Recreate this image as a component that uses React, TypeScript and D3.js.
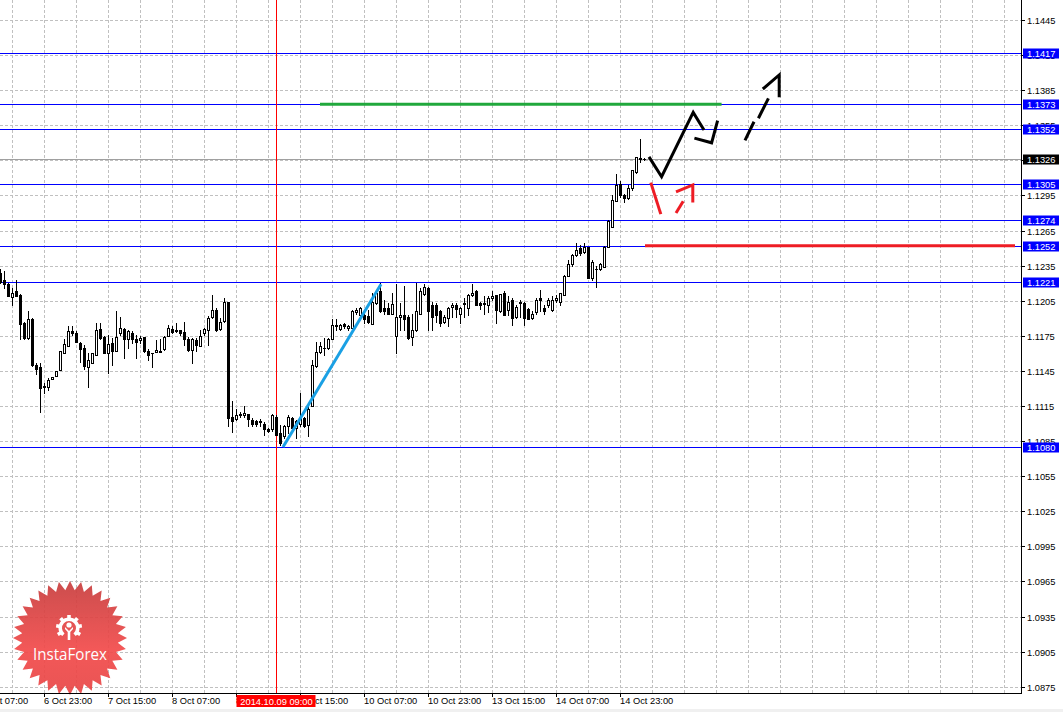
import * as d3 from 'd3';

// H1 bars, index 0 = first visible bar (6 Oct 12:00), [open, high, low, close]
const ohlc: [number, number, number, number][] = [
  [1.1229, 1.1232, 1.1220, 1.1221], [1.1223, 1.1230, 1.1216, 1.1219], [1.1219, 1.1220, 1.1209, 1.1209],
  [1.1208, 1.1216, 1.1201, 1.1212], [1.1213, 1.1223, 1.1209, 1.1209], [1.1210, 1.1211, 1.1172, 1.1185],
  [1.1186, 1.1187, 1.1172, 1.1173], [1.1173, 1.1196, 1.1172, 1.1189], [1.1189, 1.1190, 1.1149, 1.1150],
  [1.1150, 1.1152, 1.1142, 1.1147], [1.1148, 1.1152, 1.1110, 1.1130], [1.1131, 1.1135, 1.1126, 1.1132],
  [1.1131, 1.1139, 1.1129, 1.1137], [1.1138, 1.1140, 1.1138, 1.1140], [1.1141, 1.1145, 1.1141, 1.1145],
  [1.1146, 1.1162, 1.1146, 1.1162], [1.1160, 1.1172, 1.1160, 1.1168], [1.1166, 1.1183, 1.1166, 1.1179],
  [1.1179, 1.1183, 1.1176, 1.1177], [1.1177, 1.1179, 1.1170, 1.1170], [1.1169, 1.1170, 1.1153, 1.1164],
  [1.1165, 1.1167, 1.1147, 1.1149], [1.1148, 1.1160, 1.1131, 1.1154], [1.1152, 1.1160, 1.1152, 1.1160],
  [1.1159, 1.1186, 1.1159, 1.1180], [1.1181, 1.1186, 1.1172, 1.1173], [1.1174, 1.1175, 1.1160, 1.1160],
  [1.1160, 1.1176, 1.1143, 1.1168], [1.1169, 1.1173, 1.1150, 1.1162], [1.1162, 1.1196, 1.1162, 1.1174],
  [1.1177, 1.1191, 1.1176, 1.1182], [1.1181, 1.1182, 1.1156, 1.1172], [1.1172, 1.1180, 1.1165, 1.1179],
  [1.1177, 1.1179, 1.1169, 1.1172], [1.1172, 1.1176, 1.1156, 1.1170], [1.1171, 1.1175, 1.1169, 1.1173],
  [1.1174, 1.1174, 1.1161, 1.1162], [1.1162, 1.1164, 1.1154, 1.1159], [1.1160, 1.1160, 1.1148, 1.1160],
  [1.1161, 1.1171, 1.1161, 1.1163], [1.1161, 1.1172, 1.1161, 1.1162], [1.1164, 1.1175, 1.1163, 1.1174],
  [1.1175, 1.1184, 1.1175, 1.1182], [1.1181, 1.1183, 1.1177, 1.1178], [1.1179, 1.1186, 1.1178, 1.1180],
  [1.1180, 1.1180, 1.1176, 1.1177], [1.1178, 1.1187, 1.1167, 1.1172], [1.1172, 1.1174, 1.1162, 1.1163],
  [1.1163, 1.1173, 1.1152, 1.1172], [1.1171, 1.1173, 1.1162, 1.1167], [1.1166, 1.1180, 1.1166, 1.1175],
  [1.1177, 1.1182, 1.1176, 1.1181], [1.1180, 1.1192, 1.1167, 1.1190], [1.1191, 1.1210, 1.1190, 1.1197],
  [1.1197, 1.1199, 1.1179, 1.1180], [1.1181, 1.1190, 1.1180, 1.1187], [1.1188, 1.1207, 1.1187, 1.1204],
  [1.1204, 1.1204, 1.1098, 1.1105], [1.1106, 1.1119, 1.1093, 1.1102], [1.1104, 1.1112, 1.1103, 1.1107],
  [1.1108, 1.1110, 1.1106, 1.1107], [1.1107, 1.1115, 1.1106, 1.1109], [1.1108, 1.1108, 1.1098, 1.1104],
  [1.1103, 1.1105, 1.1098, 1.1100], [1.1102, 1.1103, 1.1098, 1.1100], [1.1102, 1.1104, 1.1098, 1.1101],
  [1.1100, 1.1101, 1.1090, 1.1095], [1.1095, 1.1096, 1.1093, 1.1094], [1.1095, 1.1108, 1.1094, 1.1107],
  [1.1106, 1.1107, 1.1090, 1.1090], [1.1092, 1.1099, 1.1082, 1.1083], [1.1089, 1.1099, 1.1088, 1.1098],
  [1.1098, 1.1107, 1.1092, 1.1106], [1.1105, 1.1106, 1.1095, 1.1096], [1.1096, 1.1103, 1.1088, 1.1102],
  [1.1100, 1.1126, 1.1098, 1.1105], [1.1105, 1.1106, 1.1097, 1.1098], [1.1099, 1.1115, 1.1089, 1.1112],
  [1.1115, 1.1154, 1.1115, 1.1150], [1.1149, 1.1170, 1.1148, 1.1161], [1.1161, 1.1170, 1.1160, 1.1166],
  [1.1165, 1.1173, 1.1159, 1.1165], [1.1165, 1.1173, 1.1164, 1.1172], [1.1172, 1.1189, 1.1172, 1.1184],
  [1.1184, 1.1189, 1.1180, 1.1183], [1.1181, 1.1185, 1.1180, 1.1184], [1.1185, 1.1186, 1.1182, 1.1183],
  [1.1182, 1.1184, 1.1180, 1.1183], [1.1182, 1.1197, 1.1182, 1.1196], [1.1195, 1.1199, 1.1194, 1.1197],
  [1.1193, 1.1200, 1.1191, 1.1199], [1.1193, 1.1194, 1.1186, 1.1189], [1.1192, 1.1197, 1.1186, 1.1187],
  [1.1185, 1.1212, 1.1185, 1.1204], [1.1203, 1.1214, 1.1202, 1.1212], [1.1213, 1.1220, 1.1195, 1.1196],
  [1.1199, 1.1206, 1.1194, 1.1196], [1.1199, 1.1203, 1.1194, 1.1194], [1.1194, 1.1212, 1.1194, 1.1202],
  [1.1175, 1.1219, 1.1160, 1.1191], [1.1191, 1.1203, 1.1180, 1.1193], [1.1193, 1.1218, 1.1180, 1.1189],
  [1.1191, 1.1193, 1.1172, 1.1173], [1.1174, 1.1194, 1.1167, 1.1180], [1.1180, 1.1220, 1.1179, 1.1196],
  [1.1194, 1.1216, 1.1194, 1.1213], [1.1211, 1.1219, 1.1210, 1.1217], [1.1216, 1.1217, 1.1180, 1.1196],
  [1.1201, 1.1204, 1.1180, 1.1191], [1.1201, 1.1203, 1.1187, 1.1193], [1.1196, 1.1197, 1.1183, 1.1186],
  [1.1187, 1.1193, 1.1186, 1.1191], [1.1190, 1.1200, 1.1183, 1.1199], [1.1200, 1.1203, 1.1191, 1.1201],
  [1.1201, 1.1203, 1.1191, 1.1198], [1.1194, 1.1200, 1.1186, 1.1199], [1.1202, 1.1207, 1.1191, 1.1203],
  [1.1199, 1.1211, 1.1193, 1.1210], [1.1210, 1.1219, 1.1209, 1.1212], [1.1213, 1.1214, 1.1201, 1.1201],
  [1.1203, 1.1204, 1.1198, 1.1201], [1.1202, 1.1209, 1.1194, 1.1203], [1.1201, 1.1209, 1.1195, 1.1207],
  [1.1207, 1.1213, 1.1206, 1.1209], [1.1210, 1.1210, 1.1186, 1.1197], [1.1196, 1.1211, 1.1195, 1.1211],
  [1.1212, 1.1213, 1.1193, 1.1193], [1.1197, 1.1209, 1.1193, 1.1204], [1.1206, 1.1207, 1.1184, 1.1190],
  [1.1191, 1.1201, 1.1190, 1.1200], [1.1204, 1.1206, 1.1191, 1.1203], [1.1203, 1.1204, 1.1184, 1.1190],
  [1.1198, 1.1199, 1.1189, 1.1189], [1.1190, 1.1196, 1.1189, 1.1194], [1.1195, 1.1207, 1.1194, 1.1206],
  [1.1207, 1.1214, 1.1196, 1.1206], [1.1199, 1.1201, 1.1194, 1.1196], [1.1201, 1.1207, 1.1200, 1.1206],
  [1.1197, 1.1209, 1.1196, 1.1206], [1.1206, 1.1210, 1.1204, 1.1207], [1.1204, 1.1212, 1.1201, 1.1212],
  [1.1210, 1.1227, 1.1210, 1.1226], [1.1226, 1.1240, 1.1226, 1.1236], [1.1236, 1.1245, 1.1235, 1.1244],
  [1.1244, 1.1254, 1.1243, 1.1248], [1.1250, 1.1253, 1.1244, 1.1246], [1.1247, 1.1254, 1.1246, 1.1251],
  [1.1251, 1.1251, 1.1224, 1.1224], [1.1224, 1.1240, 1.1223, 1.1238], [1.1232, 1.1235, 1.1217, 1.1232],
  [1.1232, 1.1237, 1.1231, 1.1236], [1.1234, 1.1252, 1.1234, 1.1251], [1.1251, 1.1274, 1.1251, 1.1273],
  [1.1268, 1.1295, 1.1268, 1.1291], [1.1290, 1.1313, 1.1290, 1.1304], [1.1305, 1.1307, 1.1294, 1.1295],
  [1.1295, 1.1296, 1.1289, 1.1293], [1.1293, 1.1304, 1.1292, 1.1301], [1.1301, 1.1317, 1.1300, 1.1317],
  [1.1315, 1.1328, 1.1314, 1.1328], [1.1327, 1.1343, 1.1324, 1.1326], [1.1326, 1.1327, 1.1325, 1.1326],
];

const priceTicks = [
  1.0875, 1.0905, 1.0935, 1.0965, 1.0995, 1.1025, 1.1055, 1.1085, 1.1115, 1.1145,
  1.1175, 1.1205, 1.1235, 1.1265, 1.1295, 1.1325, 1.1355, 1.1385, 1.1415, 1.1445,
];
const levels = [1.1417, 1.1373, 1.1352, 1.1305, 1.1274, 1.1252, 1.1221, 1.108];
const bidPrice = 1.1326;

const timeLabels: [number, string][] = [
  [-5, '6 Oct 07:00'], [11, '6 Oct 23:00'], [27, '7 Oct 15:00'], [43, '8 Oct 07:00'],
  [59, '8 Oct 23:00'], [75, '9 Oct 15:00'], [91, '10 Oct 07:00'], [107, '10 Oct 23:00'],
  [123, '13 Oct 15:00'], [139, '14 Oct 07:00'], [155, '14 Oct 23:00'],
];
const cursorBar = 69;
const cursorLabel = '2014.10.09 09:00';

// drawn objects: [bar index, price]
const trendLine: [number, number][] = [[70.75, 1.108], [95.25, 1.1219]];
const greenSegment: [number, number][] = [[80, 1.1373], [180.4, 1.1373]];
const redSegment: [number, number][] = [[161.25, 1.1252], [253.75, 1.1252]];
const blackArrow: [number, number][][] = [
  [[162.25, 1.1328], [165.4, 1.1311], [173.3, 1.1366], [176, 1.1351]],
  [[173.6, 1.1344], [177.9, 1.134], [179.4, 1.1359]],
  [[186.25, 1.1342], [188.5, 1.1358]],
  [[189.6, 1.1361], [192.1, 1.1378]],
  [[190.7, 1.1386], [194.8, 1.1398], [194.8, 1.1379]],
];
const redArrow: [number, number][][] = [
  [[162.7, 1.1306], [165.2, 1.1279]],
  [[169, 1.128], [170.8, 1.129]],
  [[169, 1.1298], [173.2, 1.1304], [173.2, 1.1289]],
];

const FONT = '"Liberation Sans", Arial, sans-serif';

export default function App() {
  const width = 1063;
  const height = 712;
  const plotRight = 1021;
  const plotBottom = 693;

  const x = d3.scaleLinear().domain([0, 255]).range([0, 1020]);
  const y = d3.scaleLinear().domain([1.0875, 1.1445]).range([686.7, 20]);
  const line = d3.line<[number, number]>().x(d => x(d[0])).y(d => y(d[1]));

  const gridX = d3.range(3, 256, 8).map(k => Math.round(x(k)) + 0.5);

  const starPts = d3.range(64).map(i => [(i / 64) * 2 * Math.PI, i % 2 === 0 ? 57 : 48] as [number, number]);
  const star = d3.lineRadial<[number, number]>().angle(d => d[0]).radius(d => d[1]).curve(d3.curveLinearClosed)(starPts) || '';
  const gearRing = d3.arc()({ innerRadius: 7, outerRadius: 10.5, startAngle: -2.45, endAngle: 2.45 }) || '';

  const cursorX = Math.round(x(cursorBar)) + 0.5;

  return (
    <svg width={width} height={height} style={{ position: 'fixed', left: 0, top: 0, background: '#fff' }} fontFamily={FONT}>
      <defs>
        <linearGradient id="logoFill" x1="0" y1="0" x2="0" y2="1">
          <stop offset="0" stopColor="#c83f3f" />
          <stop offset="0.6" stopColor="#f24a4a" />
          <stop offset="1" stopColor="#e84646" />
        </linearGradient>
      </defs>
      <rect x={0} y={0} width={width} height={height} fill="#fff" />
      <rect x={0} y={709} width={width} height={3} fill="#f0f0f0" />

      {/* grid */}
      <g stroke="#c0c0c0" strokeDasharray="3,2" shapeRendering="crispEdges">
        {gridX.map(gx => <line key={'gx' + gx} x1={gx} x2={gx} y1={0} y2={plotBottom} />)}
        {priceTicks.map(p => {
          const gy = Math.round(y(p)) + 0.5;
          return <line key={'gy' + p} x1={0} x2={plotRight} y1={gy} y2={gy} />;
        })}
      </g>

      {/* logo */}
      <g transform="translate(70,638)" opacity={0.92}>
        <path d={star} fill="url(#logoFill)" />
        <g transform="translate(-1,-10)" fill="#fff">
          <path d={gearRing} />
          {d3.range(-2.1, 2.2, 0.7).map(a => (
            <rect key={a} x={-1.8} y={-13} width={3.6} height={4} transform={`rotate(${(a * 180) / Math.PI})`} />
          ))}
          <circle cx={0} cy={-3} r={2.6} />
          <path d="M-4,-1 L0,3 L4,-1 L4,1 L1.3,4 L1.3,12 L-1.3,12 L-1.3,4 L-4,1 Z" />
        </g>
        <text x={0} y={22} textAnchor="middle" fill="#fff" fontSize={16} fontFamily='"Open Sans", "Noto Sans", sans-serif'
          textLength={74} lengthAdjust="spacingAndGlyphs">InstaForex</text>
      </g>

      {/* levels */}
      <g shapeRendering="crispEdges">
        {levels.map(p => {
          const ly = Math.round(y(p)) + 0.5;
          return <line key={'lv' + p} x1={0} x2={plotRight} y1={ly} y2={ly} stroke="#0000ff" />;
        })}
        <line x1={0} x2={plotRight} y1={Math.round(y(bidPrice)) + 0.5} y2={Math.round(y(bidPrice)) + 0.5} stroke="#a0a0a0" />
        <line x1={cursorX} x2={cursorX} y1={0} y2={plotBottom} stroke="#ff0000" />
      </g>

      {/* candles */}
      <g shapeRendering="crispEdges">
        {ohlc.map(([o, h, l, c], i) => {
          const cx = Math.round(x(i));
          const yh = Math.round(y(h));
          const yl = Math.round(y(l));
          const yt = Math.round(y(Math.max(o, c)));
          const yb = Math.round(y(Math.min(o, c)));
          const up = c > o;
          return (
            <g key={i}>
              <rect x={cx} y={yh} width={1} height={Math.max(1, yl - yh + 1)} fill="#000" />
              <rect x={cx - 1} y={yt} width={3} height={Math.max(1, yb - yt + 1)} fill="#000" />
              {up && yb - yt >= 2 && <rect x={cx} y={yt + 1} width={1} height={yb - yt - 1} fill="#fff" />}
            </g>
          );
        })}
      </g>

      {/* drawn objects */}
      <path d={line(trendLine) || ''} stroke="#1aa0e4" strokeWidth={3} fill="none" />
      <path d={line(greenSegment) || ''} stroke="#20a83c" strokeWidth={3} fill="none" />
      <path d={line(redSegment) || ''} stroke="#ee1c24" strokeWidth={3} fill="none" />
      {blackArrow.map((seg, i) => (
        <path key={'ba' + i} d={line(seg) || ''} stroke="#000" strokeWidth={3} fill="none" strokeLinejoin="miter" />
      ))}
      {redArrow.map((seg, i) => (
        <path key={'ra' + i} d={line(seg) || ''} stroke="#ee1c24" strokeWidth={3} fill="none" />
      ))}

      {/* axes */}
      <g shapeRendering="crispEdges" stroke="#000">
        <line x1={plotRight + 0.5} x2={plotRight + 0.5} y1={0} y2={plotBottom + 1} />
        <line x1={0} x2={plotRight + 1} y1={plotBottom + 0.5} y2={plotBottom + 0.5} />
        {priceTicks.map(p => {
          const ty = Math.round(y(p)) + 0.5;
          return <line key={'tk' + p} x1={plotRight} x2={plotRight + 4} y1={ty} y2={ty} />;
        })}
        {timeLabels.map(([k]) => {
          const tx = Math.round(x(k)) + 0.5;
          return <line key={'tt' + k} x1={tx} x2={tx} y1={plotBottom} y2={plotBottom + 4} />;
        })}
      </g>
      <g fontSize={9.3} fill="#000">
        {priceTicks.map(p => (
          <text key={'pl' + p} x={plotRight + 6} y={Math.round(y(p)) + 3.5}>{p.toFixed(4)}</text>
        ))}
        {timeLabels.map(([k, s]) => (
          <text key={'tl' + k} x={Math.round(x(k))} y={704}>{s}</text>
        ))}
      </g>

      {/* price labels */}
      {levels.map(p => {
        const ly = Math.round(y(p));
        return (
          <g key={'pb' + p}>
            <rect x={1023} y={ly - 4.5} width={36} height={10} fill="#0000ff" />
            <text x={1027} y={ly + 3.5} fontSize={9.3} fill="#fff">{p.toFixed(4)}</text>
          </g>
        );
      })}
      <rect x={1023} y={Math.round(y(bidPrice)) - 4.5} width={36} height={10} fill="#000" />
      <text x={1027} y={Math.round(y(bidPrice)) + 3.5} fontSize={9.3} fill="#fff">{bidPrice.toFixed(4)}</text>

      {/* cursor time label */}
      <rect x={cursorX - 40} y={695} width={79} height={12} fill="#ff0000" />
      <text x={cursorX} y={704.5} textAnchor="middle" fontSize={9.3} fill="#fff">{cursorLabel}</text>
    </svg>
  );
}
